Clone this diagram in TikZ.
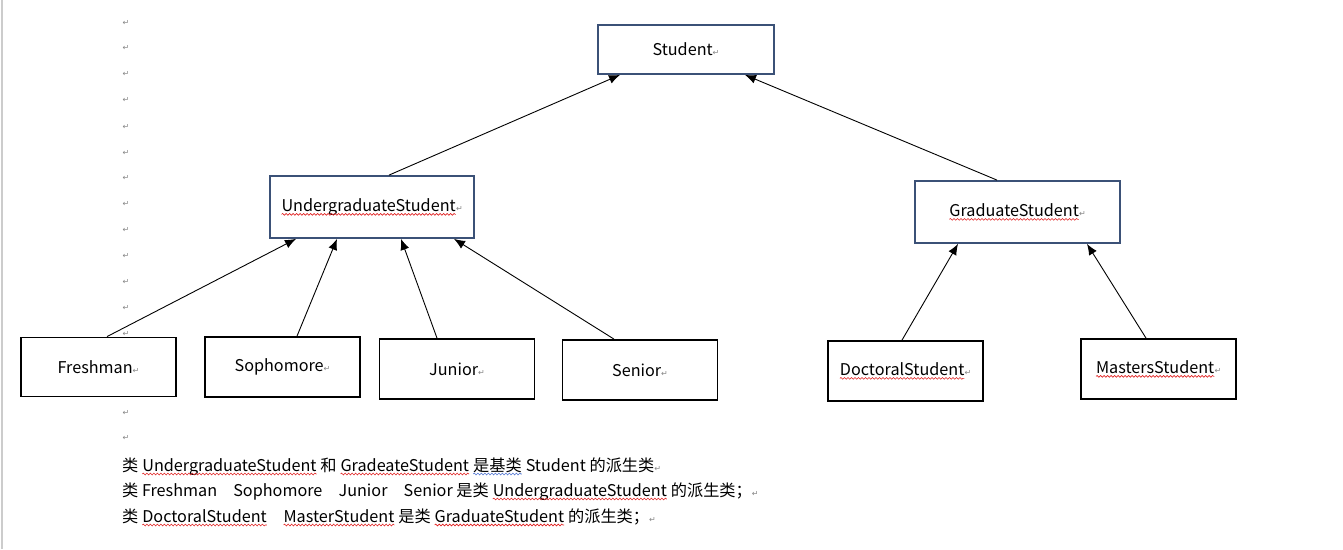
\documentclass[tikz,border=0pt]{standalone}
\usepackage{fontspec}
\setmainfont{Noto Sans CJK SC}
\newfontfamily\markfont{DejaVu Sans}
\definecolor{boxblue}{HTML}{3B5177}
\definecolor{markgray}{HTML}{858585}
\definecolor{wavered}{HTML}{E02020}
\definecolor{waveblue}{HTML}{4A70D0}
\newcommand\parmark{{\markfont\color{markgray}\fontsize{8}{8}\selectfont ↵}}
\newcommand\wavy[2]{\tikz[baseline=(w.base)]{\node [draw=none, inner sep=0pt, outer sep=0pt, minimum width=0pt, minimum height=0pt] (w) {#2};
	\draw [#1, line width=0.6pt, decorate, decoration={snake, segment length=3.5pt, amplitude=0.9pt}] ([yshift=-3pt]w.base west) -- ([yshift=-3pt]w.base east);}}
\newcommand\redwave[1]{\wavy{wavered}{#1}}
\newcommand\bluewave[1]{\wavy{waveblue}{#1}}
\tikzset{cls/.style={draw,line width=1.8pt,minimum width=155pt,minimum height=60pt,inner sep=0pt},
	parent/.style={cls,draw=boxblue},
	inh/.style={-{Latex[length=11pt,width=9pt]},line width=0.9pt},
	txt/.style={anchor=base west,inner sep=0pt}}
\usetikzlibrary{arrows.meta,decorations.pathmorphing}

\begin{document}
\begin{tikzpicture}[x=1pt, y=-1pt, every node/.style={font=\fontsize{16.2}{26}\selectfont}]
	\useasboundingbox (0,0) rectangle (1343,549);
	\draw [black!20, line width=1.5pt] (2,0) -- (2,549);
	
	% classes
	\node [parent, minimum width=176pt, minimum height=49pt] (student) at (686,49.5) {Student\parmark};
	\node [parent, minimum width=204pt, minimum height=62pt] (under) at (372,207) {\redwave{UndergraduateStudent}\parmark};
	\node [parent, minimum width=205pt, minimum height=62pt] (grad) at (1017.5,212) {\redwave{GraduateStudent}\parmark};
	\node [cls, minimum height=59pt] (fresh) at (98.5,367) {Freshman\parmark};
	\node [cls] (soph) at (282.5,367) {Sophomore\parmark};
	\node [cls] (junior) at (457,369) {Junior\parmark};
	\node [cls] (senior) at (640,370) {Senior\parmark};
	\node [cls] (doctor) at (905.5,371) {\redwave{DoctoralStudent}\parmark};
	\node [cls] (master) at (1158.5,369) {\redwave{MastersStudent}\parmark};
	
	% inheritance
	\draw [inh] ([xshift=17pt]under.north) -- ([xshift=-66pt]student.south);
	\draw [inh] ([xshift=-20.5pt]grad.north) -- ([xshift=59pt]student.south);
	\draw [inh] ([xshift=8.5pt]fresh.north) -- ([xshift=-76pt]under.south);
	\draw [inh] ([xshift=14.5pt]soph.north) -- ([xshift=-35pt]under.south);
	\draw [inh] ([xshift=-20pt]junior.north) -- ([xshift=29pt]under.south);
	\draw [inh] ([xshift=-26pt]senior.north) -- ([xshift=82pt]under.south);
	\draw [inh] ([xshift=-3.5pt]doctor.north) -- ([xshift=-59.5pt]grad.south);
	\draw [inh] ([xshift=-12.5pt]master.north) -- ([xshift=69.5pt]grad.south);
	
	\foreach \y [count=\i] in {23,48,74,100,127,153,178,204,230,256,282,308,334,413,438} \node (pm\i) at (126,\y) {\parmark};
	
	\node [txt] (line1) at (122,471) {类 \redwave{UndergraduateStudent} 和 \redwave{GradeateStudent} \bluewave{是基类} Student 的派生类\parmark};
	\node [txt] (line2) at (122,496) {类 Freshman　Sophomore　Junior　Senior 是类 \redwave{UndergraduateStudent} 的派生类；\parmark};
	\node [txt] (line3) at (122,522) {类 \redwave{DoctoralStudent}　\redwave{MasterStudent} 是类 \redwave{GraduateStudent} 的派生类；\parmark};
\end{tikzpicture}
\end{document}
